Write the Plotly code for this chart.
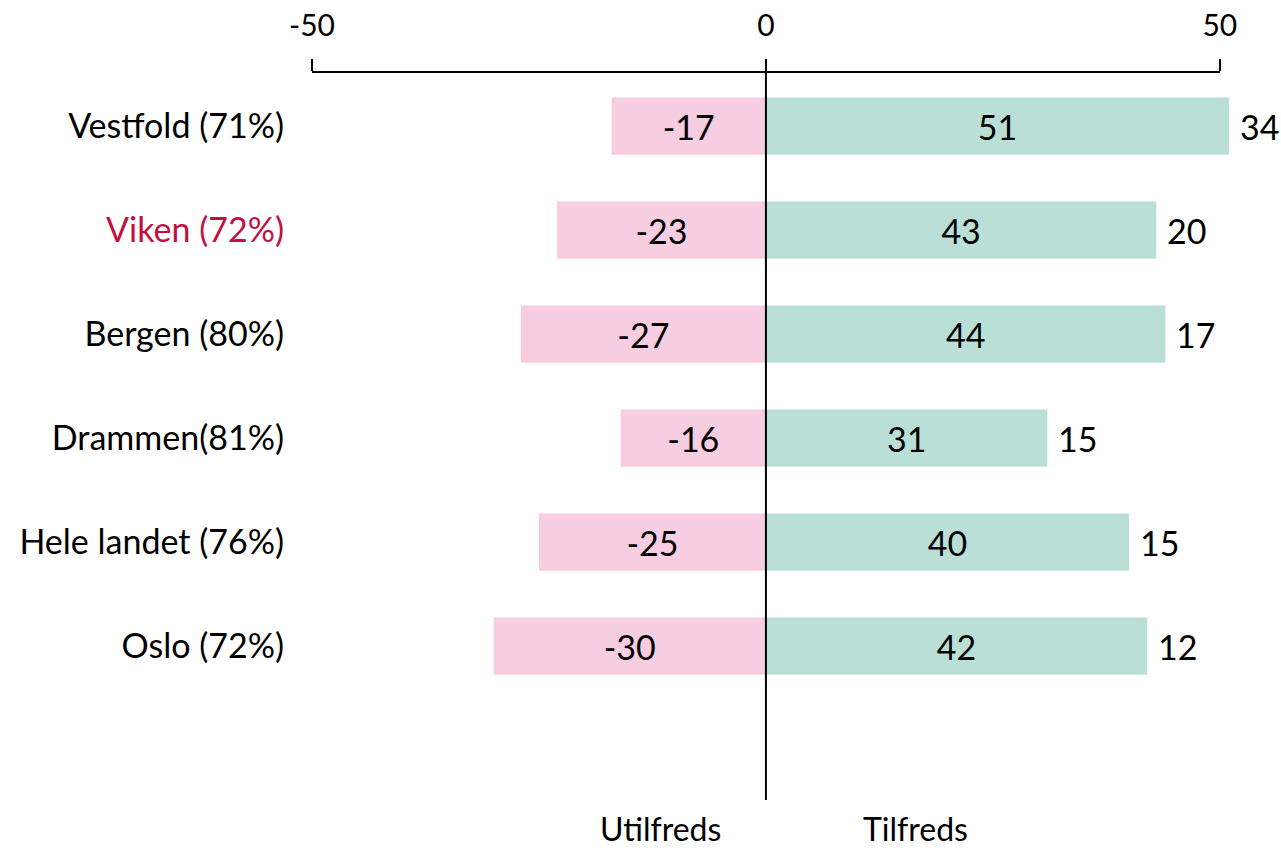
import plotly.graph_objects as go

categories = ["Vestfold (71%)", "Viken (72%)", "Bergen (80%)", "Drammen(81%)", "Hele landet (76%)", "Oslo (72%)"]
utilfreds = [-17, -23, -27, -16, -25, -30]
tilfreds = [51, 43, 44, 31, 40, 42]
netto = [34, 20, 17, 15, 15, 12]
highlight = "Viken (72%)"
x_ticks = [-50, 0, 50]
side_labels = ["Utilfreds", "Tilfreds"]
side_label_x = [-11.6, 16.5]

FONT = "Lato"
PINK = "#F7CDE1"
TEAL = "#B9DFD7"
HL = "#C4103F"
BIG = 34
TICK = 30
SIDE = 32

ypos = list(range(len(categories)))
ticktext = [f"<span style='color:{HL}'>{c}</span>" if c == highlight else c for c in categories]

fig = go.Figure()
fig.add_trace(go.Bar(
    y=ypos, x=utilfreds, orientation="h", width=0.55,
    marker=dict(color=PINK, line=dict(width=0)),
    text=[str(v) for v in utilfreds], textposition="inside", insidetextanchor="middle",
    textfont=dict(family=FONT, size=BIG, color="black"), cliponaxis=False, name="Utilfreds",
))
fig.add_trace(go.Bar(
    y=ypos, x=tilfreds, orientation="h", width=0.55,
    marker=dict(color=TEAL, line=dict(width=0)),
    text=[str(v) for v in tilfreds], textposition="inside", insidetextanchor="middle",
    textfont=dict(family=FONT, size=BIG, color="black"), cliponaxis=False, name="Tilfreds",
))

annotations = []
for y, xv, n in zip(ypos, tilfreds, netto):
    annotations.append(dict(x=xv, y=y, xref="x", yref="y", text=str(n), showarrow=False,
                            xanchor="left", yanchor="middle", xshift=9,
                            font=dict(family=FONT, size=BIG, color="black")))
for lbl, lx in zip(side_labels, side_label_x):
    annotations.append(dict(x=lx, y=0, xref="x", yref="paper", text=lbl, showarrow=False,
                            xanchor="center", yanchor="middle", yshift=-28,
                            font=dict(family=FONT, size=SIDE, color="black")))

fig.update_layout(
    width=1281, height=848,
    margin=dict(l=312, r=43, t=72, b=48, autoexpand=False),
    paper_bgcolor="white", plot_bgcolor="white",
    barmode="relative", showlegend=False,
    font=dict(family=FONT, size=BIG, color="black"),
    annotations=annotations,
    shapes=[
        dict(type="line", xref="x", yref="paper", x0=0, x1=0, y0=0, y1=1.005,
             line=dict(color="black", width=2)),
        dict(type="line", xref="x", yref="paper", x0=x_ticks[0], x1=x_ticks[-1], y0=1, y1=1,
             line=dict(color="black", width=2)),
    ],
    xaxis=dict(side="top", range=[-50, 52], tickvals=x_ticks, ticktext=[str(v) for v in x_ticks],
               showline=False, ticks="outside", ticklen=12, automargin=False,
               tickwidth=2, tickcolor="black", showgrid=False, zeroline=False,
               ticklabelstandoff=11,
               tickfont=dict(family=FONT, size=TICK, color="black")),
    yaxis=dict(range=[6.48, -0.52], tickvals=ypos, ticktext=ticktext, showgrid=False,
               zeroline=False, showline=False, ticks="", ticklabelstandoff=27, automargin=False,
               tickfont=dict(family=FONT, size=BIG, color="black")),
)

fig.write_html("out.html", config={"displayModeBar": False},
               post_script="document.body.style.margin='0px';")
